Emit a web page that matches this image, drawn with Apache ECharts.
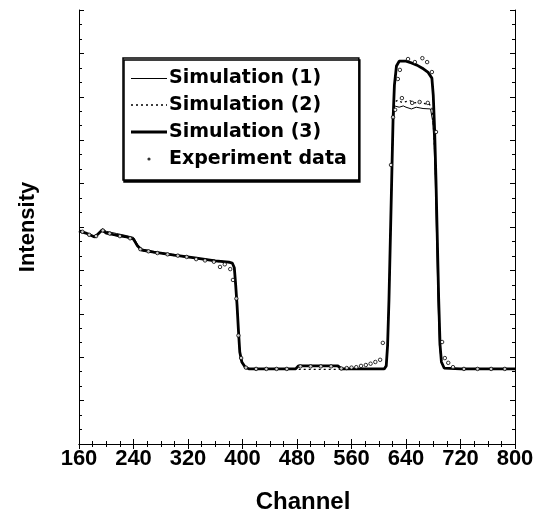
<!DOCTYPE html>
<html>
<head>
<meta charset="utf-8">
<script src="https://cdn.jsdelivr.net/npm/echarts@6/dist/echarts.min.js"></script>
<style>
  html, body { margin: 0; padding: 0; background: #fff; }
  #chart { width: 549px; height: 513px; }
</style>
</head>
<body>
<div id="chart"></div>
<script>
// Axis ticks
const xTicks = [160, 240, 320, 400, 480, 560, 640, 720, 800];

// Simulation (1): thin solid line, [channel, intensity]
const sim1 = [
  [160, 49.1], [170, 48.6], [183, 47.7], [188, 48.6], [194, 49.6], [200, 49.0], [215, 48.5],
  [230, 48.0], [240, 47.6], [246, 46.0], [252, 44.9], [270, 44.3], [300, 43.6], [330, 42.9],
  [360, 42.3], [380, 41.9], [385, 41.6], [388, 40.4], [390, 36.4], [392, 31.8], [394, 26.1],
  [396, 21.0], [399, 18.8], [404, 17.6], [410, 17.3], [478, 17.3], [482, 17.9], [540, 17.9],
  [545, 17.3], [608, 17.3], [611, 18.0], [613, 22.8], [615, 33.2], [617, 47.0], [619, 60.8],
  [621, 73.5], [623, 77.9], [630, 77.6], [636, 77.9], [640, 77.6], [648, 77.2], [655, 77.6],
  [665, 77.3], [676, 77.2], [679, 74.5], [681, 70.0], [683, 60.8], [685, 47.0], [687, 33.2],
  [689, 22.8], [692, 18.8], [696, 17.5], [720, 17.3], [800, 17.3]
];

// Simulation (2): dotted line
const sim2 = [
  [160, 49.0], [170, 48.5], [183, 47.6], [188, 48.3], [194, 49.2], [200, 48.6], [215, 48.0],
  [230, 47.6], [240, 47.1], [246, 45.5], [252, 44.6], [270, 44.1], [300, 43.4], [330, 42.8],
  [360, 42.1], [380, 41.8], [385, 41.6], [388, 40.5], [390, 36.6], [392, 32.0], [394, 26.3],
  [396, 21.2], [399, 18.9], [404, 17.6], [410, 17.2], [608, 17.2], [611, 18.0], [613, 22.8],
  [615, 33.2], [617, 47.0], [619, 60.8], [621, 74.5], [623, 78.8], [628, 79.2], [634, 78.7],
  [640, 78.9], [646, 79.1], [652, 78.6], [660, 78.8], [668, 78.4], [674, 78.3], [678, 77.6],
  [680, 74.0], [682, 68.0], [684, 59.0], [686, 47.0], [688, 33.2], [690, 22.8], [692, 18.9],
  [696, 17.5], [720, 17.3], [800, 17.3]
];

// Simulation (3): thick solid line
const sim3 = [
  [160, 49.1], [170, 48.6], [183, 47.7], [188, 48.4], [194, 49.3], [200, 48.6], [215, 48.1],
  [230, 47.7], [240, 47.2], [246, 45.6], [252, 44.7], [270, 44.2], [300, 43.5], [330, 42.9],
  [360, 42.2], [380, 41.9], [385, 41.7], [388, 40.6], [390, 36.6], [392, 32.0], [394, 26.3],
  [396, 21.2], [399, 18.9], [404, 17.7], [410, 17.3], [478, 17.3], [482, 18.0], [540, 18.0],
  [545, 17.3], [608, 17.3], [611, 18.0], [613, 22.8], [615, 33.2], [617, 47.0], [619, 60.8],
  [621, 74.7], [623, 82.7], [626, 87.1], [630, 88.2], [640, 88.2], [648, 87.8], [656, 87.3],
  [664, 86.6], [672, 85.7], [678, 84.3], [680, 80.4], [682, 72.4], [684, 60.8], [686, 47.0],
  [688, 33.2], [690, 22.8], [692, 18.9], [696, 17.5], [720, 17.3], [800, 17.3]
];

// Measured points
const experiment = [
  [165, 48.9], [175, 48.2], [185, 47.9], [195, 49.2], [205, 48.5], [220, 47.9], [235, 47.4],
  [250, 44.9], [262, 44.4], [275, 44.0], [290, 43.7], [305, 43.4], [318, 43.1], [332, 42.6],
  [345, 42.3], [358, 42.0], [367, 40.8], [374, 41.4], [382, 40.3], [386, 37.8], [391, 33.5],
  [394, 25.0], [398, 19.8], [405, 17.6], [420, 17.3], [435, 17.3], [450, 17.3], [465, 17.3],
  [485, 17.9], [500, 17.9], [515, 17.9], [530, 17.9], [545, 17.4], [553, 17.5], [560, 17.6],
  [567, 17.7], [574, 18.0], [581, 18.2], [588, 18.5], [595, 18.9], [602, 19.4], [606, 23.3],
  [618, 64.3], [621, 75.3], [624, 77.0], [628, 84.1], [631, 86.2], [634, 79.7], [643, 88.7],
  [649, 78.6], [653, 88.0], [660, 78.8], [664, 88.9], [671, 88.0], [672, 78.6], [678, 85.7],
  [684, 71.9], [693, 23.5], [697, 19.8], [702, 18.7], [709, 17.7], [725, 17.3], [745, 17.3],
  [765, 17.3], [785, 17.3]
];

const FONT = '"Liberation Sans", Arial, Helvetica, sans-serif';
const LEGEND_FONT = '"DejaVu Sans", Verdana, sans-serif';

// Legend swatches drawn as small SVG images (line styles and the point marker)
function svgIcon(inner) {
  return 'image://data:image/svg+xml;utf8,' + encodeURIComponent(
    '<svg xmlns="http://www.w3.org/2000/svg" width="36" height="14">' + inner + '</svg>'
  );
}
const iconThin = svgIcon('<line x1="0" y1="7.5" x2="36" y2="7.5" stroke="black" stroke-width="1"/>');
const iconDotted = svgIcon('<line x1="0" y1="7" x2="36" y2="7" stroke="black" stroke-width="1.4" stroke-dasharray="2,3"/>');
const iconThick = svgIcon('<line x1="0" y1="7" x2="36" y2="7" stroke="black" stroke-width="2.8"/>');
const iconDot = svgIcon('<circle cx="18" cy="7" r="1.6" fill="black"/>');

const chart = echarts.init(document.getElementById('chart'), null, { renderer: 'canvas' });

const tickCommon = {
  axisLine: { show: true, lineStyle: { color: '#000', width: 1 } },
  axisTick: { show: true, inside: true, length: 5, lineStyle: { color: '#000', width: 1 } },
  minorTick: { show: true, splitNumber: 4, length: 3, lineStyle: { color: '#000', width: 1 } },
  splitLine: { show: false }
};
const yMinor = { minorTick: { show: true, splitNumber: 3, length: 3, lineStyle: { color: '#000', width: 1 } } };

chart.setOption({
  animation: false,
  backgroundColor: '#fff',
  grid: { left: 79, top: 10, width: 436, height: 434, containLabel: false, outerBoundsMode: 'none' },
  legend: {
    orient: 'vertical',
    left: 123,
    top: 58,
    padding: [10, 12, 11, 8],
    itemWidth: 36,
    itemHeight: 14,
    itemGap: 7,
    backgroundColor: '#fff',
    borderColor: '#000',
    borderWidth: 1.5,
    shadowColor: '#000',
    shadowOffsetX: 1,
    shadowOffsetY: 2,
    shadowBlur: 0,
    textStyle: { color: '#000', fontSize: 19, lineHeight: 20, fontWeight: 'bold', fontFamily: LEGEND_FONT, padding: [0, 0, 0, -3] },
    data: [
      { name: 'Simulation (1)', icon: iconThin },
      { name: 'Simulation (2)', icon: iconDotted },
      { name: 'Simulation (3)', icon: iconThick },
      { name: 'Experiment data', icon: iconDot }
    ]
  },
  xAxis: [
    Object.assign({
      type: 'value', min: xTicks[0], max: xTicks[xTicks.length - 1], interval: 80,
      name: 'Channel', nameLocation: 'middle', nameGap: 46,
      nameTextStyle: { color: '#000', fontSize: 24, fontWeight: 'bold', fontFamily: FONT, padding: [0, 0, 0, 12] },
      axisLabel: { color: '#000', fontSize: 22, fontWeight: 'bold', fontFamily: FONT, margin: 4 }
    }, tickCommon),
    Object.assign({
      type: 'value', position: 'top', min: 160, max: 800, interval: 80,
      axisLabel: { show: false }
    }, tickCommon)
  ],
  yAxis: [
    Object.assign({
      type: 'value', min: 0, max: 100, interval: 10,
      name: 'Intensity', nameLocation: 'middle', nameGap: 40,
      nameTextStyle: { color: '#000', fontSize: 22, fontWeight: 'bold', fontFamily: FONT },
      axisLabel: { show: false }
    }, tickCommon, yMinor),
    Object.assign({
      type: 'value', position: 'right', min: 0, max: 100, interval: 10,
      axisLabel: { show: false }
    }, tickCommon, yMinor)
  ],
  series: [
    {
      name: 'Simulation (1)', type: 'line', data: sim1, symbol: 'none',
      lineStyle: { color: '#000', width: 1 }, itemStyle: { color: '#000' }, z: 3
    },
    {
      name: 'Simulation (2)', type: 'line', data: sim2, symbol: 'none',
      lineStyle: { color: '#000', width: 1.3, type: [2, 3] }, itemStyle: { color: '#000' }, z: 3
    },
    {
      name: 'Simulation (3)', type: 'line', data: sim3, symbol: 'none',
      lineStyle: { color: '#000', width: 2.8 }, itemStyle: { color: '#000' }, z: 2
    },
    {
      name: 'Experiment data', type: 'scatter', data: experiment, symbol: 'circle', symbolSize: 3.5,
      itemStyle: { color: '#fff', borderColor: '#000', borderWidth: 1 }, z: 4
    }
  ]
});
</script>
</body>
</html>
